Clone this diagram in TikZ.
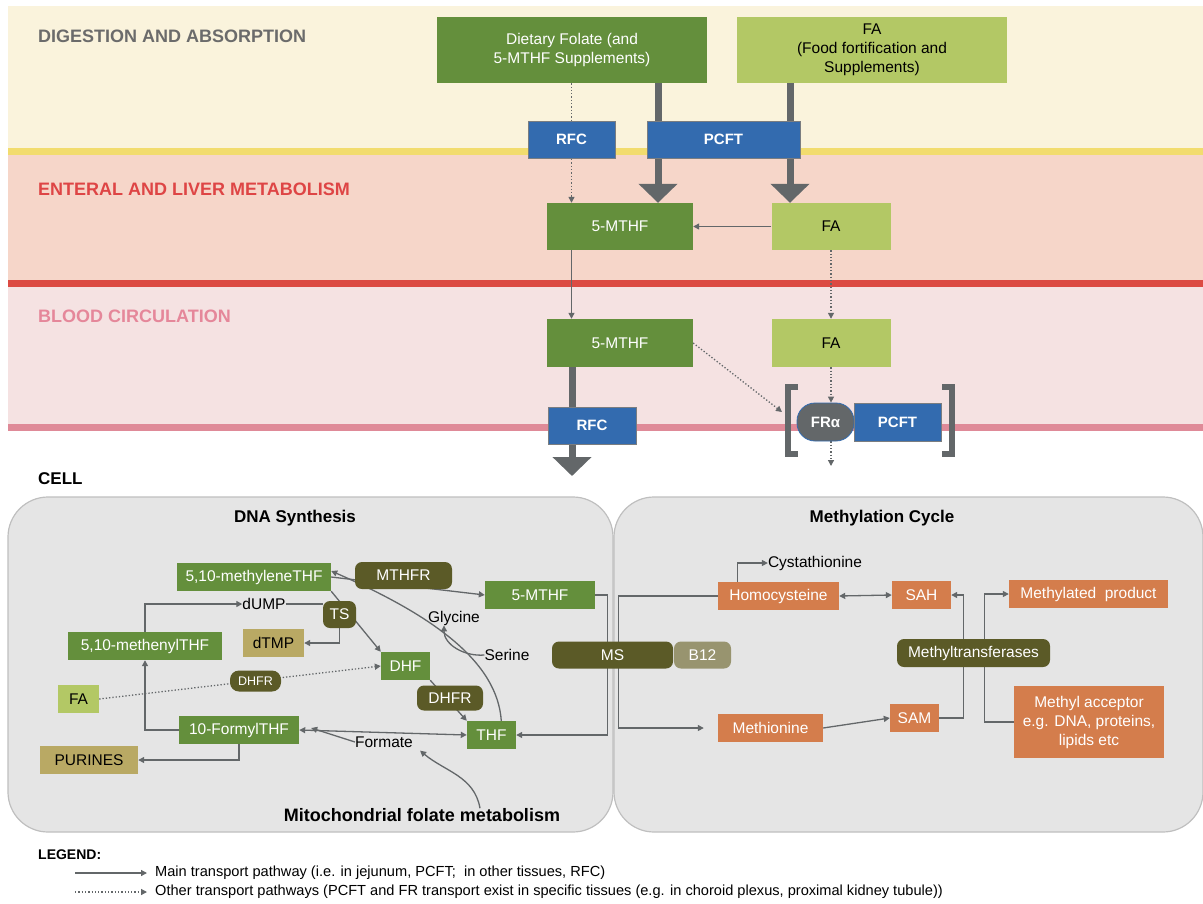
\documentclass[tikz,border=0pt]{standalone}
\usepackage{fontspec}
\setmainfont{Liberation Sans}
\usetikzlibrary{arrows.meta,positioning}
\definecolor{bandyellow}{HTML}{FAF3DC}
\definecolor{lineyellow}{HTML}{F2DC6E}
\definecolor{bandsalmon}{HTML}{F6D6C9}
\definecolor{linered}{HTML}{DC4A42}
\definecolor{bandpink}{HTML}{F5E2E2}
\definecolor{linepink}{HTML}{DF8A98}
\definecolor{headgray}{HTML}{6B6B6B}
\definecolor{headred}{HTML}{DE4545}
\definecolor{headpink}{HTML}{E5879A}
\definecolor{folgreen}{HTML}{648F3C}
\definecolor{falime}{HTML}{B3C865}
\definecolor{trblue}{HTML}{336BAF}
\definecolor{trline}{HTML}{7A7D80}
\definecolor{linegray}{HTML}{636769}
\definecolor{enzolive}{HTML}{5B5A27}
\definecolor{prodkhaki}{HTML}{B9A964}
\definecolor{cobalamin}{HTML}{98946F}
\definecolor{methorange}{HTML}{D47D4C}
\definecolor{panelfill}{HTML}{E5E5E5}
\definecolor{panelline}{HTML}{BFBFBF}
\pgfdeclarelayer{bands}
\pgfdeclarelayer{links}
\pgfsetlayers{bands,links,main}

\begin{document}
\begin{tikzpicture}[x=1pt, y=-1pt, font=\fontsize{15.5}{19}\selectfont,
  every node/.style={inner sep=0pt, align=center}]
\tikzset{sz/.style 2 args={rectangle, minimum width=#1pt, minimum height=#2pt},
         folate/.style={fill=folgreen, text=white},
         fortified/.style={fill=falime, text=black},
         transp/.style={fill=trblue, draw=trline, line width=0.8pt, text=white,
                        font=\fontsize{15}{18}\selectfont\bfseries},
         enzyme/.style={fill=enzolive, text=white, rounded corners=7pt},
         product/.style={fill=prodkhaki, text=black},
         methyl/.style={fill=methorange, text=white},
         panel/.style={fill=panelfill, draw=panelline, line width=1.2pt, rounded corners=40pt},
         heading/.style={anchor=west, font=\fontsize{18}{20}\selectfont\bfseries},
         flow/.style={draw=linegray, line width=1.3pt, -{Triangle[length=6pt,width=6pt]}},
         dflow/.style={flow, dash pattern=on 1.3pt off 2pt},
         bigflow/.style={draw=linegray, line width=7pt, -{Triangle[length=19pt,width=38pt]}},
         bracket/.style={draw=linegray, line width=6pt}}
\useasboundingbox (0,0) rectangle (1203,903);

\begin{pgfonlayer}{bands}
\fill[bandyellow] (8,6) rectangle (1203,148);
\fill[lineyellow] (8,148) rectangle (1203,155);
\fill[bandsalmon] (8,155) rectangle (1203,280);
\fill[linered] (8,280) rectangle (1203,287);
\fill[bandpink] (8,287) rectangle (1203,424);
\fill[linepink] (8,424) rectangle (1203,431);
\node(dnapanel) [panel, sz={605}{335}] at (310.5,664.5) {};
\node(methpanel) [panel, sz={589}{335}] at (908.5,664.5) {};
\end{pgfonlayer}

\node(digest) [heading, text=headgray] at (38,36) {DIGESTION AND ABSORPTION};
\node(enteral) [heading, text=headred] at (38,189) {ENTERAL AND LIVER METABOLISM};
\node(blood) [heading, text=headpink] at (38,316) {BLOOD CIRCULATION};
\node(cell) [heading, font=\fontsize{17}{19}\selectfont\bfseries] at (38,479) {CELL};

\node(diet) [folate, sz={270}{66}] at (572,50)
  {Dietary Folate (and\\5-MTHF Supplements)};
\node(fatop) [fortified, sz={270}{66}] at (872,50)
  {FA\\(Food fortification and\\Supplements)};
\node(rfcA) [transp, sz={87}{37}] at (571.5,139.5) {RFC};
\node(pcftA) [transp, sz={153}{37}] at (723.5,139.5) {PCFT};
\node(mthfA) [folate, sz={146}{47}] at (620,226.5) {5-MTHF};
\node(faA) [fortified, sz={119}{47}] at (831,226.5) {FA};
\node(mthfB) [folate, sz={146}{48}] at (620,343) {5-MTHF};
\node(faB) [fortified, sz={119}{48}] at (831,343) {FA};
\node(rfcB) [transp, sz={88}{37}] at (592,425.5) {RFC};
\node(fra) [transp, fill=linegray, draw=trblue, rounded corners=18pt, sz={57}{38}] at (825.5,422) {FRα};
\node(pcftB) [transp, sz={87}{38}] at (897.5,422) {PCFT};
\draw[bracket] (798,387) -| (788,454) -- (798,454);
\draw[bracket] (942,387) -| (951.5,454) -- (942,454);

\coordinate (thickA) at (658,0);
\coordinate (thickB) at (790,0);
\coordinate (thickC) at (572,0);
\coordinate (frin) at (782,412);
\coordinate (frout) at (831,466);
\coordinate (cellin) at (572,476);

\node(dnatitle) [font=\fontsize{17}{19}\selectfont\bfseries] at (295,518) {DNA Synthesis};
\node(methtitle) [font=\fontsize{17}{19}\selectfont\bfseries] at (882,518) {Methylation Cycle};

\node(mlene) [folate, sz={154}{28}] at (254,577) {5,10-methyleneTHF};
\node(mthfr) [enzyme, sz={97}{27}] at (403.5,575.5) {MTHFR};
\node(mthfC) [folate, sz={110}{28}] at (540,595) {5-MTHF};
\node(dump) at (264,604) {dUMP};
\node(ts) [enzyme, sz={33}{27}] at (339.5,614.5) {TS};
\node(dtmp) [product, sz={61}{28}] at (273.5,643) {dTMP};
\node(glycine) at (454,618) {Glycine};
\node(serine) at (507,655) {Serine};
\node(mnyl) [folate, sz={154}{28}] at (145,646) {5,10-methenylTHF};
\node(dhf) [folate, sz={49}{28}] at (405.5,666) {DHF};
\node(dhfrA) [enzyme, sz={51}{21}, rounded corners=9pt, font=\fontsize{12.5}{14}\selectfont] at (255.5,681) {DHFR};
\node(fasmall) [fortified, sz={41}{28}] at (78.5,699) {FA};
\node(dhfrB) [enzyme, sz={66}{25}] at (450,698) {DHFR};
\node(formyl) [folate, sz={120}{28}] at (239,730) {10-FormylTHF};
\node(thf) [folate, sz={49}{28}] at (491.5,735) {THF};
\node(formate) at (384,742) {Formate};
\node(purines) [product, sz={98}{28}] at (89,760) {PURINES};
\node(mito) [font=\fontsize{18}{20}\selectfont\bfseries] at (422,815) {Mitochondrial folate metabolism};
\node(ms) [enzyme, sz={121}{27}] at (612.5,655) {MS};
\node(b12) [enzyme, fill=cobalamin, sz={57}{27}] at (702.5,655) {B12};

\node(homo) [methyl, sz={121}{28}] at (778.5,596) {Homocysteine};
\node(cysta) at (815,563) {Cystathionine};
\node(sah) [methyl, sz={59}{28}] at (921.5,595) {SAH};
\node(mprod) [methyl, sz={159}{28}] at (1088.5,594) {Methylated~ product};
\node(mtrans) [enzyme, sz={153}{28}] at (973.5,653) {Methyltransferases};
\node(methio) [methyl, sz={105}{28}] at (770.5,728) {Methionine};
\node(sam) [methyl, sz={49}{28}] at (914.5,718) {SAM};
\node(macc) [methyl, sz={150}{72}] at (1089,722)
  {Methyl acceptor\\e.g. DNA, proteins,\\lipids etc};

\node(legend) [anchor=west, font=\fontsize{14}{16}\selectfont\bfseries] at (38,855) {LEGEND:};
\node(legmain) [anchor=west, font=\fontsize{14.6}{16}\selectfont] at (155,873)
  {Main transport pathway (i.e. in jejunum, PCFT;~ in other tissues, RFC)};
\node(legother) [anchor=west, font=\fontsize{14.6}{16}\selectfont] at (155,892)
  {Other transport pathways (PCFT and FR transport exist in specific tissues (e.g. in choroid plexus, proximal kidney tubule))};

\begin{pgfonlayer}{links}
\draw[bigflow] (diet.south -| thickA) -- (mthfA.north -| thickA);
\draw[bigflow] (fatop.south -| thickB) -- (faA.north -| thickB);
\draw[dflow] (diet.south -| rfcA) -- (mthfA.north -| rfcA);
\draw[flow] (faA.west) -- (mthfA.east);
\draw[flow] (mthfA.south -| rfcA) -- (mthfB.north -| rfcA);
\draw[dflow] (faA.south) -- (faB.north);
\draw[bigflow] (mthfB.south -| thickC) -- (cellin);
\draw[dflow] (mthfB.east) -- (frin);
\draw[dflow] (faB.south) -- (fra.north -| faB);
\draw[dflow] (fra.south -| faB) -- (frout);

\draw[flow] (mnyl.north) |- (dump.west);
\draw[draw=linegray, line width=1.3pt] (dump.east) -- (dump.east -| ts.west);
\draw[flow] (ts.south) |- (dtmp.east);
\draw[flow] (mlene.south east) -- (dhf.north west);
\draw[flow] (mlene.east) -- (mthfC.west);
\draw[flow] ([xshift=10pt,yshift=-6pt]thf.north) .. controls +(0,-60) and +(110,48) .. ([yshift=6pt]mlene.east);
\draw[flow] (serine.west) to[out=185, in=-90] ([xshift=-10pt]glycine.south);
\draw[flow] (dhf.south east) -- (thf.north west);
\draw[dflow] (fasmall.east) -- (dhf.west);
\draw[flow] (formyl.west) -| (mnyl.south);
\draw[flow] (formyl.south) |- (purines.east);
\draw[flow, {Triangle[length=6pt,width=6pt]}-{Triangle[length=6pt,width=6pt]}] (formyl.east) -- (thf.west);
\draw[flow] (formate.west) -- ([xshift=12pt,yshift=2pt]formyl.east);
\draw[flow] ([xshift=58pt]mito.north) to[out=100, in=-40] ([xshift=7pt,yshift=-3pt]formate.south east);
\draw[flow] (mthfC.east) -- ++(12,0) |- (thf.east);

\draw[flow, shorten >=14pt] (homo.west) -- ++(-99,0) |- (methio.west);
\draw[flow] ([xshift=-41pt]homo.north) |- (cysta.west);
\draw[flow, {Triangle[length=6pt,width=6pt]}-{Triangle[length=6pt,width=6pt]}] (homo.east) -- (sah.west);
\draw[flow] (methio.east) -- (sam.west);
\draw[flow] (sam.east) -- ++(24,0) |- (sah.east);
\draw[flow] (macc.west) -- ++(-29,0) |- (mprod.west);

\draw[flow] ([xshift=-80pt]legmain.west) -- ([xshift=-8pt]legmain.west);
\draw[dflow] ([xshift=-80pt]legother.west) -- ([xshift=-8pt]legother.west);
\end{pgfonlayer}

\end{tikzpicture}
\end{document}
